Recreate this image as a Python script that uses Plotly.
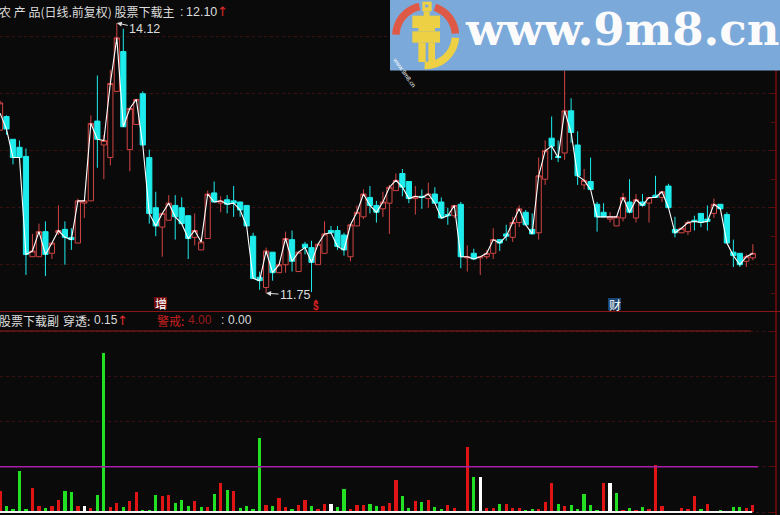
import math
import plotly.graph_objects as go

W, H = 780, 515
SPACING = 6.49
AXIS_X = 775

open_ = [13.18,13.30,13.10,13.03,12.95,12.07,12.07,12.29,12.10,12.28,12.31,12.24,12.19,12.54,12.56,13.26,13.05,12.94,13.52,13.87,
 13.01,13.23,13.50,12.94,12.50,12.33,12.39,12.52,12.50,12.43,12.24,12.13,12.23,12.63,12.54,12.57,12.56,12.55,12.52,12.25,
 11.89,11.80,12.11,11.93,12.00,12.22,11.94,12.18,12.15,12.00,12.10,12.30,12.30,12.26,12.07,12.34,12.42,12.59,12.52,12.49,
 12.54,12.65,12.80,12.73,12.58,12.60,12.58,12.62,12.55,12.44,12.43,12.53,12.06,12.10,12.06,12.07,12.10,12.22,12.27,12.24,
 12.37,12.46,12.31,12.28,12.75,13.11,12.95,12.98,13.35,13.05,12.70,12.73,12.53,12.46,12.40,12.34,12.41,12.55,12.41,12.55,
 12.54,12.61,12.59,12.69,12.31,12.28,12.29,12.39,12.45,12.40,12.45,12.53,12.44,12.11,12.10,12.03,12.06]
high = [13.44,13.31,13.10,13.09,13.02,12.27,12.36,12.38,12.19,12.52,12.38,12.32,12.58,12.56,13.31,13.66,13.14,13.71,14.12,14.07,
 13.37,13.45,13.52,13.01,12.64,12.45,12.61,12.61,12.59,12.43,12.45,12.24,12.65,12.73,12.60,12.61,12.69,12.55,12.52,12.28,
 11.94,12.15,12.11,12.00,12.29,12.30,12.11,12.20,12.21,12.18,12.38,12.34,12.34,12.28,12.35,12.52,12.66,12.69,12.56,12.64,
 12.70,12.80,12.84,12.73,12.69,12.66,12.72,12.68,12.59,12.50,12.52,12.55,12.17,12.14,12.07,12.13,12.32,12.22,12.35,12.42,
 12.52,12.48,12.45,12.94,13.09,13.30,13.09,13.70,13.46,13.17,12.84,12.94,12.55,12.54,12.46,12.42,12.63,12.75,12.62,12.62,
 12.59,12.78,12.64,12.71,12.42,12.32,12.39,12.43,12.45,12.52,12.58,12.53,12.46,12.22,12.10,12.09,12.18]
low = [13.18,13.14,12.88,12.94,11.91,12.07,12.07,11.90,12.05,12.26,12.00,12.13,12.19,12.41,12.56,12.85,12.75,12.87,13.52,13.21,
 12.82,13.23,13.05,12.36,12.25,12.07,12.39,12.22,12.36,12.05,12.17,12.13,12.23,12.55,12.46,12.45,12.42,12.42,12.34,11.88,
 11.78,11.75,11.86,11.93,11.93,11.94,11.94,12.09,11.76,12.00,12.10,12.28,12.13,12.08,12.03,12.34,12.40,12.45,12.37,12.42,
 12.27,12.65,12.60,12.54,12.44,12.49,12.50,12.54,12.40,12.35,12.41,11.97,11.94,12.04,11.91,12.05,12.05,12.12,12.21,12.20,
 12.33,12.35,12.27,12.22,12.70,12.92,12.90,12.92,13.07,12.70,12.66,12.66,12.29,12.42,12.37,12.34,12.38,12.45,12.37,12.51,
 12.37,12.59,12.55,12.50,12.24,12.28,12.26,12.30,12.33,12.30,12.41,12.49,12.19,11.98,11.98,11.98,12.04]
close = [13.42,13.19,12.94,12.94,12.09,12.12,12.29,12.09,12.19,12.30,12.24,12.22,12.56,12.56,13.24,13.10,13.09,13.59,13.99,13.21,
 13.37,13.45,13.05,12.45,12.34,12.45,12.54,12.42,12.36,12.23,12.30,12.20,12.62,12.55,12.56,12.53,12.54,12.48,12.34,11.88,
 11.86,12.12,11.93,12.00,12.23,12.03,12.11,12.15,12.02,12.18,12.27,12.28,12.16,12.13,12.35,12.46,12.62,12.52,12.46,12.55,
 12.68,12.74,12.68,12.58,12.60,12.59,12.62,12.54,12.41,12.43,12.52,12.07,12.07,12.05,12.07,12.10,12.22,12.19,12.25,12.37,
 12.49,12.35,12.27,12.78,13.00,13.04,12.94,13.35,13.16,12.78,12.74,12.66,12.42,12.42,12.42,12.42,12.59,12.46,12.57,12.52,
 12.59,12.59,12.64,12.50,12.28,12.32,12.37,12.38,12.37,12.38,12.53,12.49,12.19,12.08,12.00,12.07,12.10]
index = list(range(len(close)))
line_first = 13.33

sub_values = [.46,.13,.07,.90,.07,.53,.13,.09,.13,.26,.46,.44,.13,.13,.09,.38,3.51,.11,.20,.11,
 .24,.44,.04,.04,.38,.35,.38,.20,.26,.13,.24,.11,.11,.40,.64,.49,.46,.09,.13,.07,
 1.64,.15,.13,.31,.11,.07,.15,.26,.13,.07,.18,.18,.11,.51,.07,.15,.15,.18,.13,.13,
 .20,.71,.35,.09,.24,.22,.26,.11,.07,.15,.09,.02,1.43,.77,.77,.09,.09,.18,.18,.09,
 .09,.04,.07,.07,.22,.64,.18,.13,.15,.07,.40,.15,.04,.64,.64,.42,.04,.09,.04,.11,
 .07,1.04,.13,.02,.02,.09,.07,.35,.07,.18,.02,.04,0,.11,.11,.09,.15]
sub_kinds = list("RGGGGRRGRRGGRWRGGRRGRRGGGRRGGGRGRGRGRGGG"
                 "GRGRRGRRGRRWGGRRRGGRRRGGRGRGGRRGRGWRRGRR"
                 "RGGRRRGRGGGGGRWGRGRGRRRGGRRRGRRGRGGRR")
sub_levels = {"warn": 4.0, "through": 1.0, "base": 0.0}
warn_end, through_end, base_end = 115.7, 116.8, 115.9

BG = "#0a0a0a"
RED = "#d04444"
CYAN = "#1eecec"
GRID = "#3a1010"
AXIS = "#5c0c0c"
KIND_COL = {"R": "#e01414", "G": "#22e022", "W": "#ffffff"}

fig = go.Figure()
fig.add_trace(go.Candlestick(
    x=index, open=open_, high=high, low=low, close=close, xaxis="x", yaxis="y",
    increasing=dict(line=dict(color=RED, width=1), fillcolor=BG),
    decreasing=dict(line=dict(color=CYAN, width=1), fillcolor=CYAN),
    whiskerwidth=0, hoverinfo="skip", showlegend=False))
fig.add_trace(go.Scatter(
    x=index, y=[line_first] + close[1:], mode="lines", xaxis="x", yaxis="y",
    line=dict(color="#ffffff", width=1.1), hoverinfo="skip", showlegend=False))
fig.add_trace(go.Bar(
    x=index, y=sub_values, width=0.5, xaxis="x2", yaxis="y2",
    marker=dict(color=[KIND_COL[k] for k in sub_kinds], line=dict(width=0)),
    hoverinfo="skip", showlegend=False))
for key, end, col, wid in (("through", through_end, "#a81ea8", 1.5),
                           ("warn", warn_end, "#961a1a", 1),
                           ("base", base_end, "#f4f4f4", 2)):
    fig.add_trace(go.Scatter(
        x=[index[0], end], y=[sub_levels[key]] * 2, mode="lines", xaxis="x2", yaxis="y2",
        line=dict(color=col, width=wid), hoverinfo="skip", showlegend=False))


def X(px):
    return px / W


def Y(py):
    return 1 - py / H


def note(px, py, text, size=12, color="#dcdcdc", family="Noto Sans CJK SC", anchor="left", **kw):
    fig.add_annotation(xref="paper", yref="paper", x=X(px), y=Y(py), text=text, showarrow=False,
                       xanchor=anchor, yanchor="middle", font=dict(family=family, size=size, color=color),
                       borderpad=0, **kw)


def poly(points, color, layer="above"):
    path = "M " + " L ".join(f"{X(a):.5f},{Y(b):.5f}" for a, b in points) + " Z"
    fig.add_shape(type="path", xref="paper", yref="paper", path=path, fillcolor=color,
                  line=dict(width=0), layer=layer)


def arc(cx, cy, r0, r1, a0, a1, n=24):
    out = [(cx + r1 * math.cos(math.radians(a0 + (a1 - a0) * k / n)),
            cy - r1 * math.sin(math.radians(a0 + (a1 - a0) * k / n))) for k in range(n + 1)]
    inner = [(cx + r0 * math.cos(math.radians(a1 + (a0 - a1) * k / n)),
              cy - r0 * math.sin(math.radians(a1 + (a0 - a1) * k / n))) for k in range(n + 1)]
    return out + inner


def zr(a, b, c, d):
    """rectangle given in logo-crop coordinates"""
    return [(385 + a / 3, b / 3), (385 + c / 3, b / 3), (385 + c / 3, d / 3), (385 + a / 3, d / 3)]


# separator between the panels
fig.add_shape(type="line", xref="paper", yref="paper", x0=0, x1=1, y0=Y(311.5), y1=Y(311.5),
              line=dict(color="#8c1616", width=1), layer="above")

# watermark banner
SKY = "#7ba9d9"
poly([(390, 0), (780, 0), (780, 70.5), (390, 70.5)], SKY)
cx, cy = 385 + 122 / 3, 107 / 3
poly(arc(cx, cy, 26, 33.5, 178, 102), "#df5a46")
poly(arc(cx, cy, 26, 33.5, 72, 4), "#df5a46")
poly(arc(cx, cy, 26, 33.5, -4, -92), "#eed044")
for rect in ((112, 5, 140, 34), (116, 34, 134, 48), (82, 47, 165, 84), (82, 94, 165, 128), (100, 128, 122, 186), (130, 128, 150, 186)):
    poly(zr(*rect), "#eed044")
poly(zr(120, 14, 130, 22), SKY)
poly(zr(100, 84, 150, 94), "#eed044")
note(463.5, 30, "<b>www.9m8.cn</b>", size=45, color="#fbfbfb", family="DejaVu Serif")
fig.add_annotation(xref="paper", yref="paper", x=X(404), y=Y(53), text="www.9m8.cn", showarrow=False, textangle=55,
                   font=dict(family="Liberation Sans", size=6, color="#ffffff"))

# tag boxes
poly([(154, 297), (167, 297), (167, 309), (154, 309)], "#6e0c0c")
poly([(608, 298), (621, 298), (621, 310), (608, 310)], "#1c4470")
poly([(313.5, 302), (316, 299.5), (318.5, 302)], "#d42020")

# main header
note(-2, 12, "农 产 品(日线.前复权) 股票下载主")
note(178.5, 12, ":", family="Liberation Sans", size=12.5)
note(185, 12, "12.10", family="Liberation Sans", size=12.5)
note(222, 12, "↑", size=13, color="#e02a2a", family="DejaVu Sans", anchor="center")
# sub header
note(-2, 320, "股票下载副")
note(62, 320, "穿透:")
note(92.5, 320, "0.15", family="Liberation Sans", size=12)
note(122.5, 320, "↑", size=13, color="#e02a2a", family="DejaVu Sans", anchor="center")
note(156, 320, "警戒:", color="#cc2020")
note(186.5, 320, "4.00", family="Liberation Sans", size=12, color="#9e1a1a")
note(220, 320, ":", family="Liberation Sans", size=12)
note(226.5, 320, "0.00", family="Liberation Sans", size=12)
# signal tags
note(160.5, 303, "增", color="#ffffff", anchor="center")
note(614.5, 304, "财", color="#ffffff", anchor="center")
note(316, 306.5, "<b>$</b>", size=10, color="#d42020", family="Liberation Sans", anchor="center")

# extreme markers
high_i = high.index(max(high))
low_i = low.index(min(low))
fig.add_annotation(xref="x", yref="y", x=high_i, y=high[high_i], text=f"{high[high_i]:.2f}", ax=28, ay=6,
                   showarrow=True, arrowhead=2, arrowsize=1, arrowwidth=1, arrowcolor="#dddddd", standoff=0,
                   font=dict(family="Liberation Sans", size=12.5, color="#dcdcdc"))
fig.add_annotation(xref="x", yref="y", x=low_i, y=low[low_i], text=f"{low[low_i]:.2f}", ax=29, ay=2,
                   showarrow=True, arrowhead=2, arrowsize=1, arrowwidth=1, arrowcolor="#dddddd", standoff=0,
                   font=dict(family="Liberation Sans", size=12.5, color="#dcdcdc"))

x_range = [0, AXIS_X / SPACING]
dom_x = [0, AXIS_X / W]
yax = dict(side="right", showline=True, linecolor=AXIS, linewidth=2, showticklabels=False,
           ticks="inside", ticklen=5, tickcolor=AXIS, showgrid=True, gridcolor=GRID, griddash="dot",
           gridwidth=1, zeroline=False, fixedrange=True)
fig.update_layout(
    width=W, height=H, margin=dict(l=0, r=0, t=0, b=0), paper_bgcolor=BG, plot_bgcolor=BG,
    showlegend=False, boxgap=0.2, boxgroupgap=0, bargap=0, barmode="overlay",
    font=dict(family="Noto Sans CJK SC", color="#dcdcdc"),
    xaxis=dict(domain=dom_x, range=x_range, anchor="y", visible=False, rangeslider=dict(visible=False), fixedrange=True),
    xaxis2=dict(domain=dom_x, range=x_range, anchor="y2", visible=False, fixedrange=True),
    yaxis=dict(domain=[Y(311), 1], range=[14.322 - 311 * 0.008772, 14.322], dtick=0.5,
               minor=dict(dtick=0.25, ticks="inside", ticklen=4, tickcolor=AXIS, showgrid=False), **yax),
    yaxis2=dict(domain=[0, Y(311)], range=[-3 / 45.25, 201 / 45.25], dtick=1, **yax),
)
fig.write_html("out.html", config=dict(displayModeBar=False), post_script="document.body.style.margin='0';document.body.style.background='#0a0a0a';")
